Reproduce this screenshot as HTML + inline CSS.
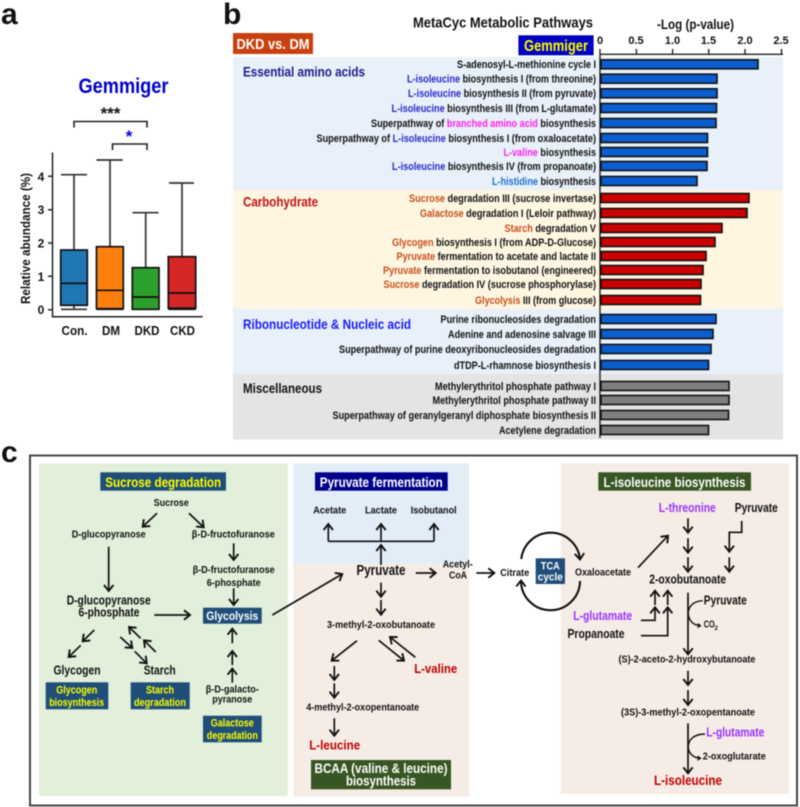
<!DOCTYPE html>
<html><head><meta charset="utf-8"><style>
html,body{margin:0;padding:0;background:#fff}
svg{display:block;filter:blur(.4px)}
text{font-family:"Liberation Sans",sans-serif;font-weight:bold;fill:#111}
.r text{font-size:11px}
.c{text-anchor:middle}
.w{stroke:#333;stroke-width:1.7;fill:none}
.b{stroke:#111;stroke-width:1.7}
.l line,.l path{stroke:#111;stroke-width:1.7;fill:none}
.bar rect{stroke:#111;stroke-width:1.6}
</style></head><body>
<svg width="800" height="807" viewBox="0 0 800 807" xmlns="http://www.w3.org/2000/svg">
<defs>
<marker id="a" markerUnits="userSpaceOnUse" markerWidth="13" markerHeight="13" refX="10" refY="6.5" orient="auto"><path d="M4 1.8L10 6.5L4 11.2" fill="none" stroke="#111" stroke-width="1.9"/></marker>
<marker id="s" markerUnits="userSpaceOnUse" markerWidth="8" markerHeight="8" refX="6" refY="4" orient="auto"><path d="M3 2L6 4L3 6" fill="none" stroke="#111" stroke-width="1.3"/></marker>
</defs>

<!-- panel letters -->
<text x="1" y="24" font-size="30">a</text>
<text x="223" y="24" font-size="30">b</text>
<text x="1" y="462" font-size="30">c</text>

<!-- panel a -->
<text x="123.5" y="93" class="c" font-size="21" textLength="90" lengthAdjust="spacingAndGlyphs" style="fill:#0000cc">Gemmiger</text>
<text x="110.5" y="119" class="c" font-size="17">***</text>
<path d="M74 127.5V121.5H147V127.5" fill="none" stroke="#222" stroke-width="1.6"/>
<text x="129" y="142" class="c" font-size="17" style="fill:#0000dd">*</text>
<path d="M112.5 150V144H147V150" fill="none" stroke="#222" stroke-width="1.6"/>
<path d="M52.5 152.5V316.7H202.7M48 309.7H52.5M48 276.3H52.5M48 243H52.5M48 209.7H52.5M48 176.3H52.5" fill="none" stroke="#222" stroke-width="1.5"/>
<g font-size="12">
<text x="41" y="314" class="c">0</text><text x="41" y="281" class="c">1</text><text x="41" y="247.5" class="c">2</text><text x="41" y="214" class="c">3</text><text x="41" y="181" class="c">4</text>
</g>
<text transform="translate(30 238.5) rotate(-90)" class="c" font-size="13" textLength="131" lengthAdjust="spacingAndGlyphs">Relative abundance (%)</text>
<!-- Con -->
<path class="w" d="M74 250V174.7M61 174.7H87M74 305V309.3M61 309.3H87"/>
<rect class="b" x="60.7" y="250" width="26.6" height="55.3" fill="#1f77b4"/><path class="b" d="M60.7 283.3H87.3"/>
<!-- DM -->
<path class="w" d="M110 246.7V160M96.5 160H122.7"/>
<rect class="b" x="96.5" y="246.7" width="26.8" height="62" fill="#ff7f0e"/><path class="b" d="M96.5 290.3H123.3M96.5 309.3H123.3"/>
<!-- DKD -->
<path class="w" d="M145.7 267.7V212.7M132.5 212.7H158.5"/>
<rect class="b" x="132.3" y="267.7" width="26.7" height="41.6" fill="#2ca02c"/><path class="b" d="M132.3 297H159"/>
<!-- CKD -->
<path class="w" d="M182 256.7V183M169 183H194"/>
<rect class="b" x="168.3" y="256.7" width="27.4" height="51.5" fill="#d62728"/><path class="b" d="M168.3 293H195.7M168.3 309.3H195.7"/>
<g font-size="13">
<text x="74.5" y="335" class="c" textLength="26" lengthAdjust="spacingAndGlyphs">Con.</text>
<text x="111" y="335" class="c" textLength="18" lengthAdjust="spacingAndGlyphs">DM</text>
<text x="147" y="335" class="c" textLength="25" lengthAdjust="spacingAndGlyphs">DKD</text>
<text x="182.5" y="335" class="c" textLength="25" lengthAdjust="spacingAndGlyphs">CKD</text>
</g>

<!-- panel b -->
<text x="413" y="27.5" font-size="15" textLength="180" lengthAdjust="spacingAndGlyphs">MetaCyc Metabolic Pathways</text>
<text x="657" y="29" font-size="14" textLength="77" lengthAdjust="spacingAndGlyphs">-Log (p-value)</text>
<rect x="233" y="33" width="80" height="21" fill="#c8400f"/>
<text x="273" y="49" class="c" font-size="15" textLength="73" lengthAdjust="spacingAndGlyphs" style="fill:#fff">DKD vs. DM</text>
<rect x="518.4" y="35.3" width="75.2" height="20" fill="#0000c0"/>
<text x="556" y="51" class="c" font-size="16" textLength="64" lengthAdjust="spacingAndGlyphs" style="fill:#ffff00">Gemmiger</text>
<rect x="233" y="57" width="550" height="133" fill="#e8f0f9"/>
<rect x="233" y="190" width="550" height="119" fill="#fff6e2"/>
<rect x="233" y="309" width="550" height="65" fill="#e8f0f9"/>
<rect x="233" y="374" width="550" height="65.5" fill="#e4e4e4"/>
<g font-size="11">
<text x="600" y="44" class="c">0</text><text x="636" y="44" class="c">0.5</text><text x="672.5" y="44" class="c">1.0</text><text x="708.5" y="44" class="c">1.5</text><text x="745" y="44" class="c">2.0</text><text x="781" y="44" class="c">2.5</text>
</g>
<path d="M600 49V438M600 54.3H783M636.4 49V54.3M672.6 49V54.3M708.8 49V54.3M745 49V54.3M781.5 49V54.3" fill="none" stroke="#222" stroke-width="1.4"/>
<g font-size="13.5">
<text x="243" y="76.7" textLength="122" lengthAdjust="spacingAndGlyphs" style="fill:#1a1a8c">Essential amino acids</text>
<text x="243" y="206.7" textLength="75" lengthAdjust="spacingAndGlyphs" style="fill:#c01010">Carbohydrate</text>
<text x="243" y="329" textLength="168" lengthAdjust="spacingAndGlyphs" style="fill:#1a1aff">Ribonucleotide &amp; Nucleic acid</text>
<text x="243" y="393" textLength="79" lengthAdjust="spacingAndGlyphs">Miscellaneous</text>
</g>
<g class="bar" fill="#0b5ed0">
<rect x="601" y="59.8" width="157" height="9"/><rect x="601" y="74.2" width="116" height="9"/><rect x="601" y="88.8" width="116" height="9"/><rect x="601" y="103.5" width="115.5" height="9"/><rect x="601" y="118.5" width="115" height="9"/><rect x="601" y="133.5" width="106.5" height="9"/><rect x="601" y="147.5" width="106.5" height="9"/><rect x="601" y="161.5" width="106" height="9"/><rect x="601" y="176.5" width="96" height="9"/>
<rect x="601" y="314.5" width="115" height="9"/><rect x="601" y="329.5" width="112" height="9"/><rect x="601" y="344.5" width="110" height="9"/><rect x="601" y="360.5" width="107.5" height="9"/>
</g>
<g class="bar" fill="#cc0000">
<rect x="601" y="193.5" width="148" height="9"/><rect x="601" y="208.5" width="146" height="9"/><rect x="601" y="223.5" width="121" height="9"/><rect x="601" y="237.5" width="114" height="9"/><rect x="601" y="251.5" width="105" height="9"/><rect x="601" y="265.5" width="102" height="9"/><rect x="601" y="279.5" width="100" height="9"/><rect x="601" y="295.5" width="99.5" height="9"/>
</g>
<g class="bar" fill="#7f7f7f">
<rect x="601" y="381.5" width="128" height="9"/><rect x="601" y="395.5" width="128" height="9"/><rect x="601" y="410.5" width="127.5" height="9"/><rect x="601" y="425.5" width="107.5" height="9"/>
</g>
<g class="r">
<text x="457" y="68.2" textLength="139" lengthAdjust="spacingAndGlyphs">S-adenosyl-L-methionine cycle I</text>
<text x="407" y="82.6" textLength="189" lengthAdjust="spacingAndGlyphs"><tspan style="fill:#2a2ac8">L-isoleucine</tspan> biosynthesis I (from threonine)</text>
<text x="408" y="97.2" textLength="188" lengthAdjust="spacingAndGlyphs"><tspan style="fill:#2a2ac8">L-isoleucine</tspan> biosynthesis II (from pyruvate)</text>
<text x="391.5" y="111.9" textLength="204.5" lengthAdjust="spacingAndGlyphs"><tspan style="fill:#2a2ac8">L-isoleucine</tspan> biosynthesis III (from L-glutamate)</text>
<text x="371" y="126.9" textLength="225" lengthAdjust="spacingAndGlyphs">Superpathway of <tspan style="fill:#ff22ee">branched amino acid</tspan> biosynthesis</text>
<text x="316.5" y="141.9" textLength="279.5" lengthAdjust="spacingAndGlyphs">Superpathway of <tspan style="fill:#2a2ac8">L-isoleucine</tspan> biosynthesis I (from oxaloacetate)</text>
<text x="503.5" y="155.9" textLength="92.5" lengthAdjust="spacingAndGlyphs"><tspan style="fill:#ff22ee">L-valine</tspan> biosynthesis</text>
<text x="392" y="169.9" textLength="204" lengthAdjust="spacingAndGlyphs"><tspan style="fill:#2a2ac8">L-isoleucine</tspan> biosynthesis IV (from propanoate)</text>
<text x="492" y="184.9" textLength="104" lengthAdjust="spacingAndGlyphs"><tspan style="fill:#1f70c8">L-histidine</tspan> biosynthesis</text>
<text x="409" y="201.9" textLength="187" lengthAdjust="spacingAndGlyphs"><tspan style="fill:#c5501a">Sucrose</tspan> degradation III (sucrose invertase)</text>
<text x="420" y="216.9" textLength="176" lengthAdjust="spacingAndGlyphs"><tspan style="fill:#c5501a">Galactose</tspan> degradation I (Leloir pathway)</text>
<text x="504.5" y="231.9" textLength="91.5" lengthAdjust="spacingAndGlyphs"><tspan style="fill:#c5501a">Starch</tspan> degradation V</text>
<text x="392" y="245.9" textLength="204" lengthAdjust="spacingAndGlyphs"><tspan style="fill:#c5501a">Glycogen</tspan> biosynthesis I (from ADP-D-Glucose)</text>
<text x="396.5" y="259.9" textLength="199.5" lengthAdjust="spacingAndGlyphs"><tspan style="fill:#c5501a">Pyruvate</tspan> fermentation to acetate and lactate II</text>
<text x="383" y="273.9" textLength="213" lengthAdjust="spacingAndGlyphs"><tspan style="fill:#c5501a">Pyruvate</tspan> fermentation to isobutanol (engineered)</text>
<text x="383.5" y="287.9" textLength="212.5" lengthAdjust="spacingAndGlyphs"><tspan style="fill:#c5501a">Sucrose</tspan> degradation IV (sucrose phosphorylase)</text>
<text x="475" y="303.9" textLength="121" lengthAdjust="spacingAndGlyphs"><tspan style="fill:#c5501a">Glycolysis</tspan> III (from glucose)</text>
<text x="440.5" y="322.9" textLength="155.5" lengthAdjust="spacingAndGlyphs">Purine ribonucleosides degradation</text>
<text x="448" y="337.9" textLength="148" lengthAdjust="spacingAndGlyphs">Adenine and adenosine salvage III</text>
<text x="339" y="352.9" textLength="257" lengthAdjust="spacingAndGlyphs">Superpathway of purine deoxyribonucleosides degradation</text>
<text x="454" y="368.9" textLength="142" lengthAdjust="spacingAndGlyphs">dTDP-L-rhamnose biosynthesis I</text>
<text x="435" y="389.9" textLength="161" lengthAdjust="spacingAndGlyphs">Methylerythritol phosphate pathway I</text>
<text x="432.5" y="403.9" textLength="163.5" lengthAdjust="spacingAndGlyphs">Methylerythritol phosphate pathway II</text>
<text x="332.5" y="418.9" textLength="263.5" lengthAdjust="spacingAndGlyphs">Superpathway of geranylgeranyl diphosphate biosynthesis II</text>
<text x="499" y="433.9" textLength="97" lengthAdjust="spacingAndGlyphs">Acetylene degradation</text>
</g>

<!-- panel c -->
<rect x="30" y="455.5" width="767" height="350" fill="#fff" stroke="#444" stroke-width="2"/>
<rect x="39" y="463.3" width="248.7" height="332.7" fill="#e2efda"/>
<rect x="293.3" y="463.3" width="175.7" height="100" fill="#e2edf8"/>
<rect x="293.3" y="563.3" width="175.7" height="233.4" fill="#f6ece6"/>
<rect x="560.7" y="463.3" width="228.5" height="330.7" fill="#f6ece6"/>

<g fill="#1f4e79">
<rect x="100.3" y="472.3" width="125.7" height="18.4"/>
<rect x="203" y="607.7" width="58.7" height="16"/>
<rect x="45.7" y="682.3" width="62.6" height="27"/>
<rect x="130.7" y="682.3" width="59" height="27"/>
<rect x="203" y="715.7" width="58.7" height="26.6"/>
<rect x="535.7" y="558.3" width="29.3" height="25.7"/>
</g>
<rect x="315" y="472.3" width="132.7" height="18.4" fill="#00008b"/>
<rect x="598.3" y="472.3" width="152.7" height="18.4" fill="#375623"/>
<rect x="311" y="760" width="140" height="29.3" fill="#375623"/>

<g font-size="14">
<text x="163.2" y="486.8" class="c" textLength="116" lengthAdjust="spacingAndGlyphs" style="fill:#ffff00">Sucrose degradation</text>
<text x="381.3" y="486.8" class="c" textLength="123" lengthAdjust="spacingAndGlyphs" style="fill:#fff">Pyruvate fermentation</text>
<text x="674.5" y="486.8" class="c" textLength="142" lengthAdjust="spacingAndGlyphs" style="fill:#fff">L-isoleucine biosynthesis</text>
<text x="381" y="773" class="c" textLength="133" lengthAdjust="spacingAndGlyphs" style="fill:#fff">BCAA (valine &amp; leucine)</text>
<text x="381" y="785.5" class="c" textLength="70" lengthAdjust="spacingAndGlyphs" style="fill:#fff">biosynthesis</text>
</g>
<g font-size="12">
<text x="232.3" y="620" class="c" textLength="52" lengthAdjust="spacingAndGlyphs" style="fill:#fff">Glycolysis</text>
<text x="76.7" y="693.5" class="c" font-size="11" textLength="41" lengthAdjust="spacingAndGlyphs" style="fill:#ffff00">Glycogen</text>
<text x="76.7" y="706" class="c" font-size="11" textLength="55" lengthAdjust="spacingAndGlyphs" style="fill:#ffff00">biosynthesis</text>
<text x="160" y="693.5" class="c" font-size="11" textLength="28" lengthAdjust="spacingAndGlyphs" style="fill:#ffff00">Starch</text>
<text x="160" y="706" class="c" font-size="11" textLength="52" lengthAdjust="spacingAndGlyphs" style="fill:#ffff00">degradation</text>
<text x="232.3" y="726.5" class="c" font-size="11" textLength="43" lengthAdjust="spacingAndGlyphs" style="fill:#ffff00">Galactose</text>
<text x="232.3" y="739" class="c" font-size="11" textLength="51" lengthAdjust="spacingAndGlyphs" style="fill:#ffff00">degradation</text>
<text x="550.3" y="569.3" class="c" font-size="11" textLength="19" lengthAdjust="spacingAndGlyphs" style="fill:#fff">TCA</text>
<text x="550.3" y="580.5" class="c" font-size="11" textLength="25" lengthAdjust="spacingAndGlyphs" style="fill:#fff">cycle</text>
</g>

<g font-size="10.5">
<text x="171.3" y="506" class="c" textLength="35" lengthAdjust="spacingAndGlyphs">Sucrose</text>
<text x="108.7" y="537.3" class="c" textLength="74" lengthAdjust="spacingAndGlyphs">D-glucopyranose</text>
<text x="233.3" y="537.3" class="c" textLength="83" lengthAdjust="spacingAndGlyphs">β-D-fructofuranose</text>
<text x="233.7" y="573" class="c" textLength="82" lengthAdjust="spacingAndGlyphs">β-D-fructofuranose</text>
<text x="233.7" y="586" class="c" textLength="54" lengthAdjust="spacingAndGlyphs">6-phosphate</text>
<text x="232.3" y="692.7" class="c" textLength="53" lengthAdjust="spacingAndGlyphs">β-D-galacto-</text>
<text x="232.3" y="702.7" class="c" textLength="40" lengthAdjust="spacingAndGlyphs">pyranose</text>
<text x="329.7" y="513.7" class="c" textLength="33" lengthAdjust="spacingAndGlyphs">Acetate</text>
<text x="381" y="513.7" class="c" textLength="32" lengthAdjust="spacingAndGlyphs">Lactate</text>
<text x="433.7" y="513.7" class="c" textLength="46" lengthAdjust="spacingAndGlyphs">Isobutanol</text>
<text x="457.7" y="567.3" class="c" textLength="30" lengthAdjust="spacingAndGlyphs">Acetyl-</text>
<text x="458" y="578.3" class="c" textLength="18" lengthAdjust="spacingAndGlyphs">CoA</text>
<text x="514.7" y="576" class="c" textLength="29" lengthAdjust="spacingAndGlyphs">Citrate</text>
<text x="381" y="628" class="c" textLength="108" lengthAdjust="spacingAndGlyphs">3-methyl-2-oxobutanoate</text>
<text x="362.7" y="710.3" class="c" textLength="113" lengthAdjust="spacingAndGlyphs">4-methyl-2-oxopentanoate</text>
<text x="603" y="575.7" class="c" textLength="56" lengthAdjust="spacingAndGlyphs">Oxaloacetate</text>
<text x="687" y="662.3" class="c" textLength="137" lengthAdjust="spacingAndGlyphs">(S)-2-aceto-2-hydroxybutanoate</text>
<text x="688" y="715.3" class="c" textLength="134" lengthAdjust="spacingAndGlyphs">(3S)-3-methyl-2-oxopentanoate</text>
<text x="734.3" y="759.3" class="c" textLength="63" lengthAdjust="spacingAndGlyphs">2-oxoglutarate</text>
<text x="703.7" y="627.7" textLength="11" lengthAdjust="spacingAndGlyphs">CO</text>
<text x="714.5" y="630" font-size="6">2</text>
</g>
<g font-size="12.5">
<text x="108.7" y="604.3" class="c" textLength="84" lengthAdjust="spacingAndGlyphs">D-glucopyranose</text>
<text x="109" y="616.7" class="c" textLength="61" lengthAdjust="spacingAndGlyphs">6-phosphate</text>
<text x="77" y="674.3" class="c" textLength="47" lengthAdjust="spacingAndGlyphs">Glycogen</text>
<text x="159.7" y="674.3" class="c" textLength="32" lengthAdjust="spacingAndGlyphs">Starch</text>
<text x="756.3" y="512" class="c" textLength="43" lengthAdjust="spacingAndGlyphs">Pyruvate</text>
<text x="687.7" y="583.7" class="c" textLength="77" lengthAdjust="spacingAndGlyphs">2-oxobutanoate</text>
<text x="725.3" y="604.7" class="c" textLength="43" lengthAdjust="spacingAndGlyphs">Pyruvate</text>
<text x="596" y="638" class="c" textLength="57" lengthAdjust="spacingAndGlyphs">Propanoate</text>
<text x="687.3" y="512" class="c" textLength="57" lengthAdjust="spacingAndGlyphs" style="fill:#9933ff">L-threonine</text>
<text x="602.7" y="620" class="c" textLength="59" lengthAdjust="spacingAndGlyphs" style="fill:#9933ff">L-glutamate</text>
<text x="735.3" y="736.7" class="c" textLength="58" lengthAdjust="spacingAndGlyphs" style="fill:#9933ff">L-glutamate</text>
<text x="435.7" y="673" class="c" font-size="13" textLength="43" lengthAdjust="spacingAndGlyphs" style="fill:#c00000">L-valine</text>
<text x="334.7" y="749.3" class="c" font-size="13" textLength="51" lengthAdjust="spacingAndGlyphs" style="fill:#c00000">L-leucine</text>
<text x="688" y="785" class="c" font-size="14" textLength="68" lengthAdjust="spacingAndGlyphs" style="fill:#c00000">L-isoleucine</text>
<text x="381" y="575" class="c" font-size="15" textLength="49" lengthAdjust="spacingAndGlyphs">Pyruvate</text>
</g>

<g class="l">
<line x1="157" y1="513.3" x2="142.7" y2="526.7" marker-end="url(#a)"/>
<line x1="189" y1="513.3" x2="203.7" y2="527.3" marker-end="url(#a)"/>
<line x1="233.7" y1="543.3" x2="233.7" y2="560" marker-end="url(#a)"/>
<line x1="108.7" y1="546.7" x2="108.7" y2="591" marker-end="url(#a)"/>
<line x1="233.7" y1="588.3" x2="233.7" y2="605" marker-end="url(#a)"/>
<line x1="154.3" y1="615" x2="190" y2="615" marker-end="url(#a)"/>
<line x1="94.3" y1="630" x2="82.7" y2="641.3" marker-end="url(#a)"/>
<line x1="80.7" y1="645.3" x2="68.7" y2="657" marker-end="url(#a)"/>
<line x1="120.3" y1="637" x2="132.3" y2="648" marker-end="url(#a)"/>
<line x1="134.7" y1="651.3" x2="146.7" y2="663.3" marker-end="url(#a)"/>
<line x1="155.7" y1="652" x2="144" y2="640.3" marker-end="url(#a)"/>
<line x1="140.7" y1="638.3" x2="129" y2="627" marker-end="url(#a)"/>
<line x1="232.3" y1="643.3" x2="232.3" y2="628.7" marker-end="url(#a)"/>
<line x1="232.3" y1="665" x2="232.3" y2="651" marker-end="url(#a)"/>
<line x1="232.3" y1="682.7" x2="232.3" y2="668.7" marker-end="url(#a)"/>
<line x1="272.3" y1="615" x2="342.3" y2="574" marker-end="url(#a)"/>

<line x1="328.3" y1="541.3" x2="434" y2="541.3"/>
<line x1="328.3" y1="541.3" x2="328.3" y2="524" marker-end="url(#a)"/>
<line x1="381" y1="541.3" x2="381" y2="524" marker-end="url(#a)"/>
<line x1="434" y1="541.3" x2="434" y2="524" marker-end="url(#a)"/>
<line x1="381" y1="565" x2="381" y2="545" marker-end="url(#a)"/>
<line x1="415.7" y1="573" x2="435.7" y2="573" marker-end="url(#a)"/>
<line x1="476.3" y1="573" x2="494.3" y2="573" marker-end="url(#a)"/>
<line x1="381" y1="582.7" x2="381" y2="596.7" marker-end="url(#a)"/>
<line x1="381" y1="600" x2="381" y2="614.7" marker-end="url(#a)"/>
<line x1="357" y1="640.7" x2="331.7" y2="660.7" marker-end="url(#a)"/>
<line x1="378.7" y1="640.3" x2="404" y2="660.7" marker-end="url(#a)"/>
<line x1="415.3" y1="657.3" x2="390" y2="637" marker-end="url(#a)"/>
<line x1="334.3" y1="666" x2="334.3" y2="680" marker-end="url(#a)"/>
<line x1="334.3" y1="683.3" x2="334.3" y2="697.7" marker-end="url(#a)"/>
<line x1="334.3" y1="718.3" x2="334.3" y2="735.7" marker-end="url(#a)"/>

<path d="M521.3 559A29.5 29.5 0 0 1 580 559.5" style="stroke-width:2.1" marker-end="url(#a)"/>
<path d="M580 581A29.5 29.5 0 0 1 521 580.5" style="stroke-width:2.1" marker-end="url(#a)"/>

<line x1="638" y1="567.7" x2="668" y2="535.7" marker-end="url(#a)"/>
<line x1="688" y1="518.3" x2="688" y2="532.7" marker-end="url(#a)"/>
<line x1="688" y1="538.3" x2="688" y2="552.7" marker-end="url(#a)"/>
<line x1="688" y1="557.3" x2="688" y2="571.7" marker-end="url(#a)"/>
<path d="M741.7 521V532.3H729.3V551.7" marker-end="url(#a)"/>
<line x1="729.3" y1="557.3" x2="729.3" y2="571.7" marker-end="url(#a)"/>
<line x1="655" y1="605" x2="655" y2="590.7" marker-end="url(#a)"/>
<path d="M641 620.3H655V607.3" marker-end="url(#a)"/>
<line x1="667.7" y1="605" x2="667.7" y2="590.7" marker-end="url(#a)"/>
<path d="M641 635.7H667.7V607.3" marker-end="url(#a)"/>
<line x1="688" y1="592.7" x2="688" y2="654.3" marker-end="url(#a)"/>
<path d="M702.7 600.7C694 601 688.3 606 688.3 613.3C688.3 620 693 625.5 700.5 625.7" style="stroke-width:1.4" marker-end="url(#s)"/>
<line x1="688" y1="670.7" x2="688" y2="685" marker-end="url(#a)"/>
<line x1="688" y1="690" x2="688" y2="705" marker-end="url(#a)"/>
<line x1="688" y1="723.3" x2="688" y2="773.3" marker-end="url(#a)"/>
<path d="M705 734C695 734 688.3 739 688.3 746.7C688.3 753 693 758 700.5 758.3" style="stroke-width:1.4" marker-end="url(#s)"/>
</g>
</svg>
</body></html>
